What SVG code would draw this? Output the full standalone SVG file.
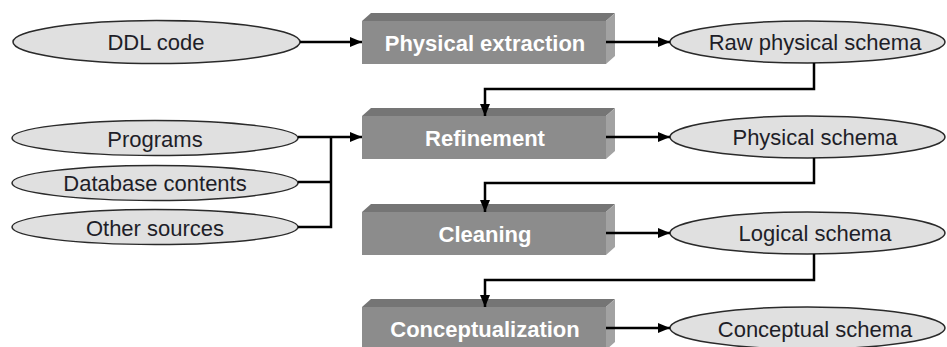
<svg xmlns="http://www.w3.org/2000/svg" width="947" height="347" viewBox="0 0 947 347">
  <style>
    .src { fill: #e0e0e0; stroke: #2a2a2a; stroke-width: 1.5; }
    .front { fill: #8c8c8c; }
    .top { fill: #757575; }
    .side { fill: #a2a2a2; }
    .etxt { font-family: "Liberation Sans", Arial, sans-serif; font-size: 22px; fill: #1e1e28; text-anchor: middle; dominant-baseline: central; }
    .btxt { font-family: "Liberation Sans", Arial, sans-serif; font-size: 22px; font-weight: bold; fill: #ffffff; text-anchor: middle; dominant-baseline: central; }
    .wire { fill: none; stroke: #000; stroke-width: 2.5; }
  </style>
  <defs>
    <marker id="arrow" viewBox="0 0 12 10" refX="12" refY="5" markerWidth="12" markerHeight="10" markerUnits="userSpaceOnUse" orient="auto">
      <path d="M0,0 L12,5 L0,10 z" fill="#000"/>
    </marker>
  </defs>

  <!-- input sources -->
  <g id="ddl-code">
    <ellipse class="src" cx="156.5" cy="42" rx="143.5" ry="21.5"/>
    <text class="etxt" x="156" y="42">DDL code</text>
  </g>
  <g id="programs">
    <ellipse class="src" cx="155" cy="138" rx="143" ry="17.5"/>
    <text class="etxt" x="155" y="139">Programs</text>
  </g>
  <g id="database-contents">
    <ellipse class="src" cx="155" cy="183" rx="143" ry="17.5"/>
    <text class="etxt" x="155" y="183">Database contents</text>
  </g>
  <g id="other-sources">
    <ellipse class="src" cx="155" cy="227" rx="143" ry="17.5"/>
    <text class="etxt" x="155" y="228">Other sources</text>
  </g>

  <!-- process steps (3D blocks) -->
  <g id="physical-extraction">
    <polygon class="top" points="362,21 371,13 615,13 606,21"/>
    <polygon class="side" points="606,21 615,13 615,56 606,64"/>
    <rect class="front" x="362" y="21" width="244" height="43"/>
    <text class="btxt" x="485" y="43">Physical extraction</text>
  </g>
  <g id="refinement">
    <polygon class="top" points="362,116 371,108 615,108 606,116"/>
    <polygon class="side" points="606,116 615,108 615,151 606,159"/>
    <rect class="front" x="362" y="116" width="244" height="43"/>
    <text class="btxt" x="485" y="138">Refinement</text>
  </g>
  <g id="cleaning">
    <polygon class="top" points="362,212 371,204 615,204 606,212"/>
    <polygon class="side" points="606,212 615,204 615,247 606,255"/>
    <rect class="front" x="362" y="212" width="244" height="43"/>
    <text class="btxt" x="485" y="234">Cleaning</text>
  </g>
  <g id="conceptualization">
    <polygon class="top" points="362,307 371,299 615,299 606,307"/>
    <polygon class="side" points="606,307 615,299 615,342 606,350"/>
    <rect class="front" x="362" y="307" width="244" height="43"/>
    <text class="btxt" x="485" y="329">Conceptualization</text>
  </g>

  <!-- resulting schemas -->
  <g id="raw-physical-schema">
    <ellipse class="src" cx="807.5" cy="42" rx="137.5" ry="21"/>
    <text class="etxt" x="815" y="42">Raw physical schema</text>
  </g>
  <g id="physical-schema">
    <ellipse class="src" cx="807.5" cy="137" rx="137.5" ry="21"/>
    <text class="etxt" x="815" y="137">Physical schema</text>
  </g>
  <g id="logical-schema">
    <ellipse class="src" cx="807.5" cy="233" rx="137.5" ry="21"/>
    <text class="etxt" x="815" y="233">Logical schema</text>
  </g>
  <g id="conceptual-schema">
    <ellipse class="src" cx="807.5" cy="328" rx="137.5" ry="21"/>
    <text class="etxt" x="815" y="329">Conceptual schema</text>
  </g>

  <!-- connectors -->
  <g id="connectors">
    <path class="wire" d="M300,42 H362" marker-end="url(#arrow)"/>
    <path class="wire" d="M606,42 H670" marker-end="url(#arrow)"/>
    <path class="wire" d="M814,63 V89 H485 V116" marker-end="url(#arrow)"/>

    <path class="wire" d="M298,137 H362" marker-end="url(#arrow)"/>
    <path class="wire" d="M298,182 H331"/>
    <path class="wire" d="M298,227 H331 V137"/>
    <path class="wire" d="M606,137 H670" marker-end="url(#arrow)"/>
    <path class="wire" d="M814,158 V183 H485 V212" marker-end="url(#arrow)"/>

    <path class="wire" d="M606,233 H670" marker-end="url(#arrow)"/>
    <path class="wire" d="M814,254 V280 H485 V307" marker-end="url(#arrow)"/>

    <path class="wire" d="M606,328 H670" marker-end="url(#arrow)"/>
  </g>
</svg>
